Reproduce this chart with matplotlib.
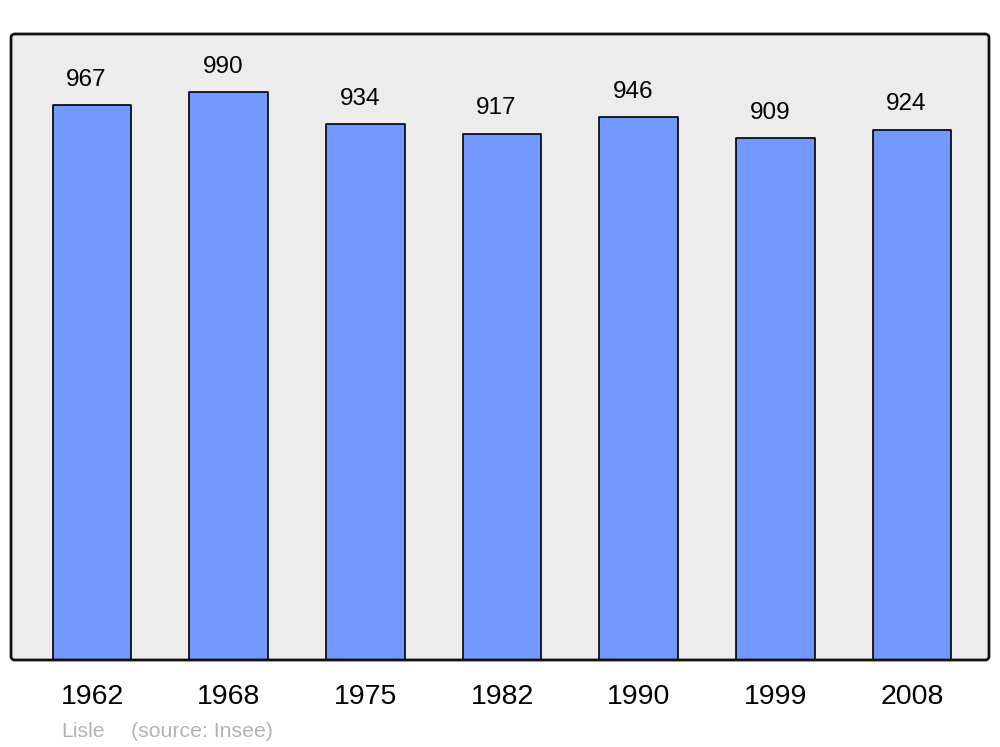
import matplotlib
matplotlib.use("Agg")
import matplotlib.pyplot as plt
from matplotlib.patches import FancyBboxPatch

years = ["1962", "1968", "1975", "1982", "1990", "1999", "2008"]
population = [967, 990, 934, 917, 946, 909, 924]
place = "Lisle"
source = "(source: Insee)"

plt.rcParams['font.family'] = ['Liberation Sans', 'DejaVu Sans']

W, H = 1000, 747
fig = plt.figure(figsize=(W / 100, H / 100), dpi=100)
ax_l, ax_r, ax_t, ax_b = 11, 989, 34, 660
ax = fig.add_axes([ax_l / W, 1 - ax_b / H, (ax_r - ax_l) / W, (ax_b - ax_t) / H])
ax.set_facecolor('#ececec')

x = list(range(len(years)))
bars = ax.bar(x, population, width=0.575, color='#7399ff', edgecolor='black',
              linewidth=1.2, zorder=2)
for b in bars:
    b.set_joinstyle('round')

for xi, v in zip(x, population):
    ax.annotate(str(v), (xi, v), xytext=(-4, 14), textcoords='offset points',
                ha='center', va='baseline', fontsize=17.5, color='black')

ax.set_xlim(-0.593, 6.563)
ax.set_ylim(0, 1091)
ax.set_xticks(x)
ax.set_xticklabels(years, fontsize=20.5)
ax.tick_params(axis='x', length=0, pad=17.5)
ax.set_yticks([])
for s in ax.spines.values():
    s.set_visible(False)

frame = FancyBboxPatch((ax_l / 100, (H - ax_b) / 100), (ax_r - ax_l) / 100, (ax_b - ax_t) / 100,
                       boxstyle="round,pad=0,rounding_size=0.04",
                       transform=fig.dpi_scale_trans, facecolor='none',
                       edgecolor='#111111', linewidth=2.0, zorder=10)
fig.patches.append(frame)

fig.text(61 / W, 1 - 737 / H, place, fontsize=15.3, color='#b3b3b3', va='baseline', ha='left')
fig.text(131 / W, 1 - 737 / H, source, fontsize=15.3, color='#b3b3b3', va='baseline', ha='left')

fig.savefig('out.png', dpi=100, facecolor='white')
